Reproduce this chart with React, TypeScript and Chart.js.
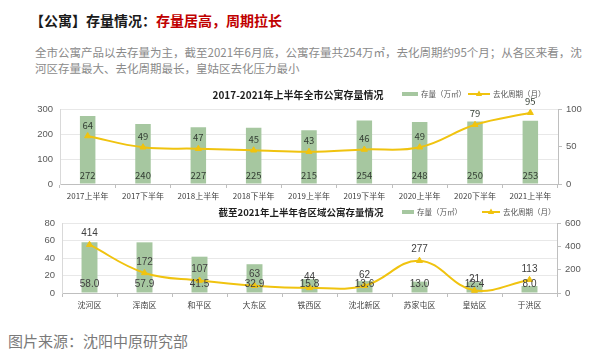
import React, { useEffect, useRef } from "react";
import { Chart, registerables } from "chart.js";
Chart.register(...registerables);

const periods = ["2017上半年", "2017下半年", "2018上半年", "2018下半年", "2019上半年", "2019下半年", "2020上半年", "2020下半年", "2021上半年"];
const cityStock = [272, 240, 227, 225, 215, 254, 248, 250, 253];
const cityCycle = [64, 49, 47, 45, 43, 46, 49, 79, 95];

const districts = ["沈河区", "浑南区", "和平区", "大东区", "铁西区", "沈北新区", "苏家屯区", "皇姑区", "于洪区"];
const districtStock = [58.0, 57.9, 41.5, 32.9, 15.8, 13.6, 13.0, 12.4, 8.0];
const districtCycle = [414, 172, 107, 63, 44, 62, 277, 21, 113];

const cityStockAxis = [0, 300, 100];
const cityCycleAxis = [0, 100, 50];
const districtStockAxis = [0, 80, 20];
const districtCycleAxis = [0, 600, 200];

const GREEN = "#a6c7a0";
const YELLOW = "#f0c30f";
const CJK = "'Noto Sans CJK SC', 'Microsoft YaHei', sans-serif";
const ARIAL = "'Liberation Sans', 'Noto Sans CJK SC', sans-serif";

type Opts = {
  labels: string[];
  stock: number[];
  cycle: number[];
  yAxis: number[];
  y1Axis: number[];
  decimals: number;
  title: string;
  titleX: number;
  titleY: number;
  titleFont: string;
  legendY: number;
  legend: { gx0: number; gx1: number; tx1: number; lx0: number; lx1: number; tx2: number };
  padTop: number;
  xHeight: number;
  leftW: number;
  rightW: number;
  barPct: number;
  numFont: string;
  labelColor: string;
  xFont: number;
};

function triangle(ctx: CanvasRenderingContext2D, x: number, y: number, r: number) {
  ctx.beginPath();
  ctx.moveTo(x, y - r);
  ctx.lineTo(x + r * 0.9, y + r * 0.6);
  ctx.lineTo(x - r * 0.9, y + r * 0.6);
  ctx.closePath();
  ctx.fill();
}

function makeConfig(o: Opts): any {
  const overlay = {
    id: "overlay",
    afterDatasetsDraw(chart: any) {
      const ctx: CanvasRenderingContext2D = chart.ctx;
      const area = chart.chartArea;
      ctx.save();
      ctx.textAlign = "center";
      ctx.textBaseline = "middle";
      ctx.fillStyle = o.labelColor;
      ctx.font = o.numFont;
      chart.getDatasetMeta(0).data.forEach((el: any, i: number) => {
        ctx.fillText(o.stock[i].toFixed(o.decimals), el.x, area.bottom - 8.5);
      });
      chart.getDatasetMeta(1).data.forEach((el: any, i: number) => {
        ctx.fillText(String(o.cycle[i]), el.x, el.y - 11);
      });
      ctx.fillStyle = "#1f1f1f";
      ctx.font = o.titleFont;
      ctx.fillText(o.title, o.titleX, o.titleY);
      const L = o.legend;
      const ly = o.legendY;
      ctx.fillStyle = GREEN;
      ctx.fillRect(L.gx0, ly - 2, L.gx1 - L.gx0, 4);
      ctx.strokeStyle = YELLOW;
      ctx.lineWidth = 2;
      ctx.beginPath();
      ctx.moveTo(L.lx0, ly);
      ctx.lineTo(L.lx1, ly);
      ctx.stroke();
      ctx.fillStyle = YELLOW;
      triangle(ctx, (L.lx0 + L.lx1) / 2, ly, 3.5);
      ctx.fillStyle = "#555555";
      ctx.font = `7.5px ${CJK}`;
      ctx.textAlign = "left";
      ctx.fillText("存量（万㎡）", L.tx1, ly);
      ctx.fillText("去化周期（月）", L.tx2, ly);
      ctx.restore();
    },
  };

  return {
    type: "bar",
    data: {
      labels: o.labels,
      datasets: [
        {
          type: "bar",
          label: "存量（万㎡）",
          data: o.stock,
          backgroundColor: GREEN,
          yAxisID: "y",
          categoryPercentage: 1,
          barPercentage: o.barPct,
          order: 2,
        },
        {
          type: "line",
          label: "去化周期（月）",
          data: o.cycle,
          borderColor: YELLOW,
          backgroundColor: YELLOW,
          borderWidth: 2,
          tension: 0.4,
          pointStyle: "triangle",
          pointRadius: 3.5,
          pointBorderWidth: 1,
          pointBorderColor: YELLOW,
          yAxisID: "y1",
          order: 1,
        },
      ],
    },
    options: {
      responsive: false,
      animation: false,
      layout: { padding: { top: o.padTop, left: 0, right: 0, bottom: 0 } },
      plugins: { legend: { display: false }, tooltip: { enabled: false }, title: { display: false } },
      scales: {
        x: {
          afterFit(s: any) {
            s.height = o.xHeight;
          },
          grid: { offset: true, drawOnChartArea: false, tickLength: 4, color: "#bfbfbf" },
          border: { color: "#bfbfbf" },
          ticks: { color: "#404040", font: { size: o.xFont, family: CJK }, padding: 3, maxRotation: 0, autoSkip: false },
        },
        y: {
          position: "left",
          min: o.yAxis[0],
          max: o.yAxis[1],
          afterFit(s: any) {
            s.width = o.leftW;
          },
          grid: { color: "#e8e8e8", drawTicks: false },
          border: { color: "#d9d9d9" },
          ticks: { stepSize: o.yAxis[2], color: "#595959", font: { size: 9.5, family: ARIAL }, padding: 7 },
        },
        y1: {
          position: "right",
          min: o.y1Axis[0],
          max: o.y1Axis[1],
          afterFit(s: any) {
            s.width = o.rightW;
          },
          grid: { drawOnChartArea: false, tickLength: 4, color: "#bfbfbf" },
          border: { color: "#bfbfbf" },
          ticks: { stepSize: o.y1Axis[2], color: "#595959", font: { size: 9.5, family: ARIAL }, padding: 4 },
        },
      },
    },
    plugins: [overlay],
  };
}

function ChartCanvas({ opts, width, height, top }: { opts: Opts; width: number; height: number; top: number }) {
  const ref = useRef<HTMLCanvasElement | null>(null);
  useEffect(() => {
    if (!ref.current) return;
    const chart = new Chart(ref.current, makeConfig(opts));
    return () => chart.destroy();
  }, []);
  return (
    <canvas
      ref={ref}
      width={width}
      height={height}
      style={{ position: "absolute", left: 0, top, width, height, display: "block" }}
    />
  );
}

const cityOpts: Opts = {
  labels: periods,
  stock: cityStock,
  cycle: cityCycle,
  yAxis: cityStockAxis,
  y1Axis: cityCycleAxis,
  decimals: 0,
  title: "2017-2021年上半年全市公寓存量情况",
  titleX: 298,
  titleY: 11,
  titleFont: `bold 10px ${CJK}`,
  legendY: 10,
  legend: { gx0: 402, gx1: 418, tx1: 421, lx0: 468, lx1: 490, tx2: 493 },
  padTop: 25,
  xHeight: 20,
  leftW: 60,
  rightW: 42,
  barPct: 0.28,
  numFont: `9.5px ${CJK}`,
  labelColor: "#333d33",
  xFont: 8,
};

const districtOpts: Opts = {
  labels: districts,
  stock: districtStock,
  cycle: districtCycle,
  yAxis: districtStockAxis,
  y1Axis: districtCycleAxis,
  decimals: 1,
  title: "截至2021年上半年各区域公寓存量情况",
  titleX: 301,
  titleY: 8,
  titleFont: `bold 9.5px ${CJK}`,
  legendY: 8,
  legend: { gx0: 402, gx1: 414, tx1: 417, lx0: 482, lx1: 500, tx2: 503 },
  padTop: 19,
  xHeight: 17,
  leftW: 62,
  rightW: 43,
  barPct: 0.29,
  numFont: `10px ${ARIAL}`,
  labelColor: "#404040",
  xFont: 8,
};

export default function App() {
  return (
    <div
      style={{
        position: "absolute",
        left: 0,
        top: 0,
        width: 600,
        height: 362,
        background: "#ffffff",
        overflow: "hidden",
        fontFamily: CJK,
      }}
    >
      <div
        style={{
          position: "absolute",
          left: 30,
          top: 11,
          fontSize: 14,
          lineHeight: "18px",
          fontWeight: 700,
          color: "#1a1a1a",
          whiteSpace: "nowrap",
        }}
      >
        【公寓】存量情况：<span style={{ color: "#c00000" }}>存量居高，周期拉长</span>
      </div>
      <div
        style={{
          position: "absolute",
          left: 35,
          top: 44,
          fontSize: 11.5,
          lineHeight: "16px",
          color: "#8a8a8a",
          whiteSpace: "nowrap",
        }}
      >
        <div>全市公寓产品以去存量为主，截至2021年6月底，公寓存量共254万㎡，去化周期约95个月；从各区来看，沈</div>
        <div>河区存量最大、去化周期最长，皇姑区去化压力最小</div>
      </div>
      <ChartCanvas opts={cityOpts} width={600} height={120} top={84} />
      <ChartCanvas opts={districtOpts} width={600} height={106} top={204} />
      <div
        style={{
          position: "absolute",
          left: 8,
          top: 331,
          fontSize: 15,
          lineHeight: "20px",
          color: "#7a7a7a",
          whiteSpace: "nowrap",
        }}
      >
        图片来源：沈阳中原研究部
      </div>
    </div>
  );
}
